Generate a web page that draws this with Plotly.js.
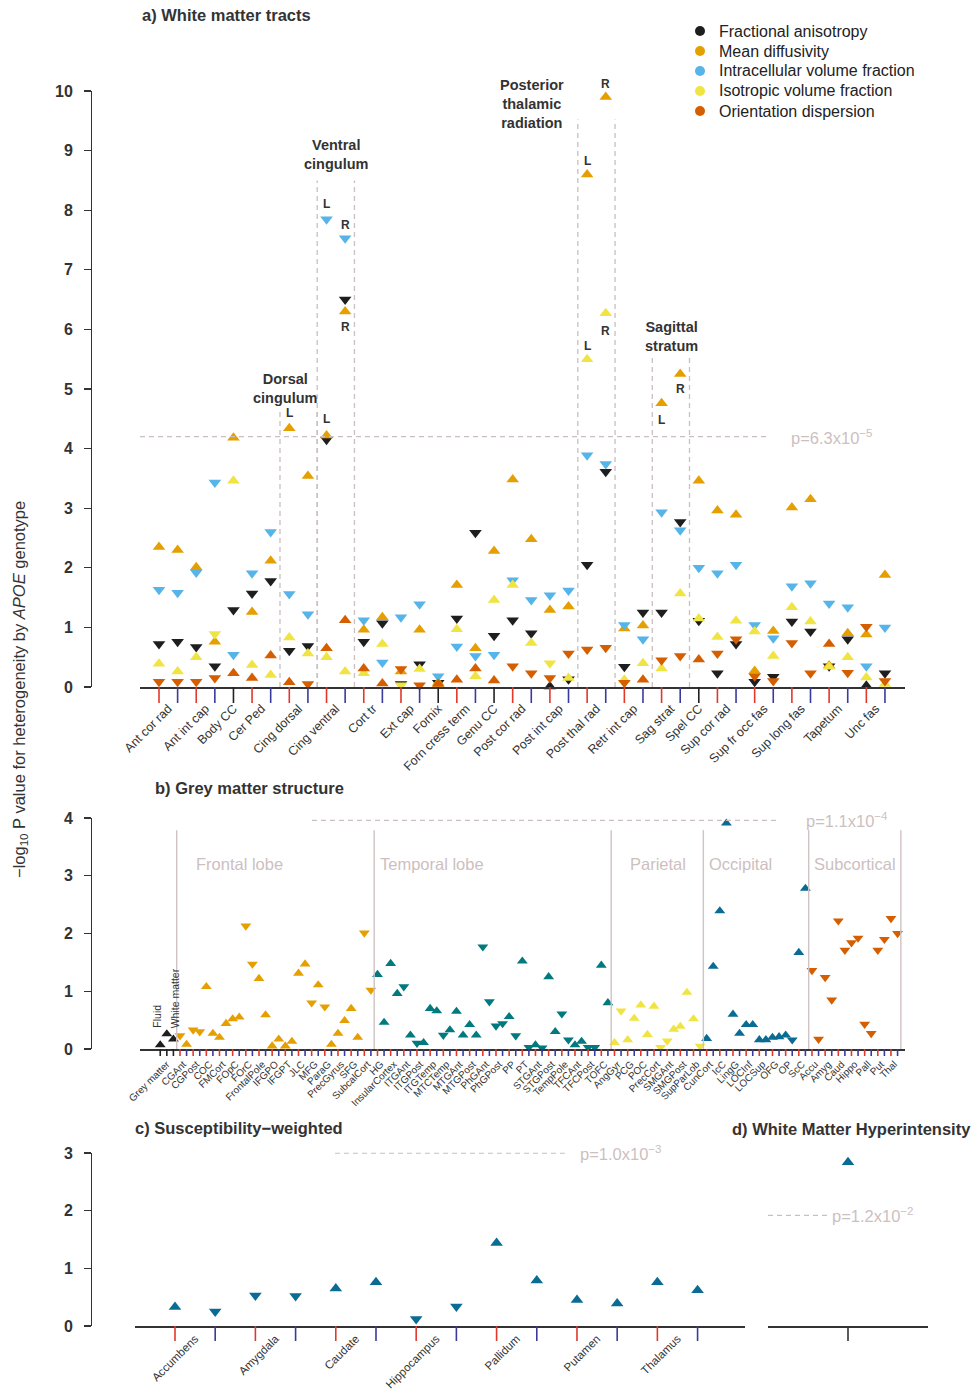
<!DOCTYPE html>
<html>
<head>
<meta charset="utf-8">
<script src="https://cdn.plot.ly/plotly-3.0.1.min.js"></script>
<style>
  html, body { margin: 0; padding: 0; background: #ffffff; }
  #chart { width: 973px; height: 1395px; }
</style>
</head>
<body>
<div id="chart"></div>
<script>
// ---------- a) White matter tracts ----------
const tracts = ['Ant cor rad', 'Ant int cap', 'Body CC', 'Cer Ped', 'Cing dorsal', 'Cing ventral',
  'Cort tr', 'Ext cap', 'Fornix', 'Forn cress term', 'Genu CC', 'Post cor rad', 'Post int cap',
  'Post thal rad', 'Retr int cap', 'Sag strat', 'Spel CC', 'Sup cor rad', 'Sup fr occ fas',
  'Sup long fas', 'Tapetum', 'Unc fas'];
// LR = left and right hemisphere entries, M = single midline tract
const tractSides = ['LR', 'LR', 'M', 'LR', 'LR', 'LR', 'LR', 'LR', 'M', 'LR', 'M', 'LR', 'LR',
  'LR', 'LR', 'LR', 'M', 'LR', 'LR', 'LR', 'LR', 'LR'];

// -log10 P per entry (L then R), direction: u = higher, d = lower
const faVal = [0.72, 0.76, 0.67, 0.35, 1.29, 1.57, 1.78, 0.61, 0.69, 4.15, 6.50, 0.76, 1.07,
  0.05, 0.38, 0.07, 1.15, 2.59, 0.86, 1.12, 0.90, 0.01, 0.13, 2.05, 3.61, 0.34, 1.25, 1.25, 2.77,
  1.11, 0.23, 0.72, 0.09, 0.17, 1.10, 0.93, 0.35, 0.80, 0.02, 0.23];
const faDir = 'dd dd d dd dd dd dd dd d dd d dd ud dd dd dd d dd dd dd dd ud';

const mdVal = [2.35, 2.30, 2.01, 0.76, 4.18, 1.26, 2.12, 4.34, 3.54, 4.22, 6.30, 0.96, 1.17,
  0.26, 0.96, 0.07, 1.71, 0.65, 2.28, 3.48, 2.48, 1.29, 1.35, 8.60, 9.90, 0.98, 1.03, 4.76, 5.25,
  3.46, 2.96, 2.89, 0.27, 0.94, 3.01, 3.15, 0.36, 0.90, 0.88, 1.88];
const mdDir = 'uu uu u uu uu uu uu uu u uu u uu uu uu uu uu u uu uu uu uu uu';

const icvfVal = [1.63, 1.58, 1.92, 3.43, 0.54, 1.91, 2.60, 1.56, 1.22, 7.85, 7.53, 1.12, 0.41,
  1.17, 1.39, 0.18, 0.68, 0.52, 0.54, 1.79, 1.46, 1.54, 1.62, 3.89, 3.74, 1.04, 0.80, 2.93, 2.63,
  2.00, 1.91, 2.05, 1.04, 0.82, 1.69, 1.74, 1.40, 1.34, 0.35, 1.00];
const icvfDir = 'dd dd d dd dd dd dd dd d dd d dd dd dd dd dd d dd dd dd dd dd';

const isoVal = [0.39, 0.26, 0.50, 0.89, 3.46, 0.37, 0.20, 0.83, 0.56, 0.50, 0.26, 0.23, 0.72,
  0.03, 0.30, 0.02, 0.97, 0.18, 1.46, 1.71, 0.74, 0.40, 0.15, 5.50, 6.27, 0.12, 0.40, 0.31, 1.57,
  1.15, 0.84, 1.11, 0.93, 0.52, 1.34, 1.10, 0.34, 0.50, 0.16, 0.05];
const isoDir = 'uu ud u uu uu uu uu du u uu u uu du uu uu uu u uu uu uu uu uu';

const odVal = [0.09, 0.09, 0.09, 0.15, 0.23, 0.15, 0.53, 0.08, 0.05, 0.65, 1.12, 0.31, 0.06,
  0.30, 0.03, 0.05, 0.12, 0.31, 0.11, 0.35, 0.23, 0.15, 0.56, 0.63, 0.66, 0.07, 0.12, 0.45, 0.52,
  0.46, 0.56, 0.80, 0.18, 0.10, 0.74, 0.23, 0.72, 0.24, 1.01, 0.10];
const odDir = 'dd dd u uu ud uu uu dd u uu u dd dd dd du dd u dd dd dd ud dd';

const pThreshWM = 6.3e-5;

// ---------- b) Grey matter structure ----------
const tissues = ['Fluid', 'Grey matter', 'White matter'];
const tissueVal = [0.07, 0.26, 0.17];
const tissueDir = 'uuu';

const lobes = ['Frontal lobe', 'Temporal lobe', 'Parietal', 'Occipital', 'Subcortical'];
const frontalRegions = ['CGAnt', 'CGPost', 'COC', 'FMCort', 'FOpC', 'FOrC', 'FrontalPole', 'IFGPO',
  'IFGPT', 'JLC', 'MFG', 'ParaG', 'PrecGyrus', 'SFG', 'SubcalCort'];
const frontalVal = [0.23, 0.08, 0.33, 0.30, 1.08, 0.27, 0.20, 0.44, 0.52, 0.55, 2.13, 1.47, 1.22,
  0.59, 0.05, 0.17, 0.05, 0.13, 1.31, 1.47, 0.80, 1.11, 0.73, 0.08, 0.27, 0.49, 0.70, 0.20, 2.01, 1.02];
const frontalDir = 'du dd uu uu uu dd uu uu uu uu du du uu uu dd';

const temporalRegions = ['HG', 'InsularCortex', 'ITGAnt', 'ITGPost', 'ITGTemp', 'MTCTemp', 'MTGAnt',
  'MTGPost', 'PhGAnt', 'PhGPost', 'PP', 'PT', 'STGAnt', 'STGPost', 'TempPole', 'TFCAnt', 'TFCPost', 'TOFC'];
const temporalVal = [1.29, 0.46, 1.48, 0.96, 1.08, 0.24, 0.10, 0.11, 0.70, 0.66, 0.24, 0.33, 0.65,
  0.24, 0.42, 0.24, 1.77, 0.82, 0.40, 0.44, 0.56, 0.23, 1.52, 0.03, 0.07, 0.02, 1.25, 0.30, 0.61,
  0.16, 0.07, 0.13, 0.03, 0.03, 1.45, 0.80];
const temporalDir = 'uu uu du du uu du uu uu dd dd ud ud ud uu dd uu dd uu';

const parietalRegions = ['AngGyr', 'PCG', 'POC', 'PrecCort', 'SMGAnt', 'SMGPost', 'SupParLob'];
const parietalVal = [0.11, 0.66, 0.16, 0.53, 0.76, 0.25, 0.74, 0.03, 0.14, 0.34, 0.39, 0.98, 0.52, 0.05];
const parietalDir = 'ud uu uu ud du uu ud';

const occipitalRegions = ['CunCort', 'IcC', 'LingG', 'LOCInf', 'LOCSup', 'OFG', 'OP', 'ScC'];
const occipitalVal = [0.18, 1.43, 2.39, 3.91, 0.60, 0.27, 0.42, 0.42, 0.16, 0.16, 0.20, 0.21,
  0.24, 0.16, 1.67, 2.78];
const occipitalDir = 'uu uu uu uu uu uu ud uu';

const subcorticalRegions = ['Accu', 'Amyg', 'Caud', 'Hippo', 'Pall', 'Put', 'Thal'];
const subcorticalVal = [1.36, 0.17, 1.24, 0.85, 2.22, 1.71, 1.84, 1.92, 0.43, 0.27, 1.71, 1.90, 2.26, 2.00];
const subcorticalDir = 'dd dd dd dd dd dd dd';

const pThreshGM = 1.1e-4;

// ---------- c) Susceptibility-weighted ----------
const swiRegions = ['Accumbens', 'Amygdala', 'Caudate', 'Hippocampus', 'Pallidum', 'Putamen', 'Thalamus'];
const swiVal = [0.33, 0.25, 0.53, 0.52, 0.65, 0.76, 0.12, 0.34, 1.44, 0.79, 0.45, 0.39, 0.76, 0.62];
const swiDir = 'ud dd uu dd uu uu uu';
const pThreshSWI = 1.0e-3;

// ---------- d) White Matter Hyperintensity ----------
const wmhVal = [2.84];
const wmhDir = 'u';
const pThreshWMH = 1.2e-2;

// ---------- helpers ----------
const W = 973, H = 1395;
const px = v => v / W;            // pixel column -> paper x
const py = v => 1 - v / H;        // pixel row -> paper y
const FONT = 'Liberation Sans, Arial, Helvetica, sans-serif';
const INK = '#333333';
const PALE = '#CDBFBF';
const COL_L = '#E0392C', COL_R = '#3A3A9C', COL_M = '#222222';
const nlog = p => -Math.log10(p);
const symbols = d => d.replace(/\s/g, '').split('').map(c => (c === 'u' ? 'triangle-up' : 'triangle-down'));

const traces = [];
const shapes = [];
const annotations = [];

function tickShape(xref, x, color, yTopPx, yBotPx) {
  shapes.push({ type: 'line', xref: xref, yref: 'paper', x0: x, x1: x, y0: py(yTopPx), y1: py(yBotPx),
    line: { color: color, width: 1.6 } });
}

// ----- panel a positions -----
const wmEntries = [];
tracts.forEach((t, ti) => {
  if (tractSides[ti] === 'M') wmEntries.push({ ti: ti, side: 'M' });
  else { wmEntries.push({ ti: ti, side: 'L' }); wmEntries.push({ ti: ti, side: 'R' }); }
});
const wmX = wmEntries.map((e, i) => i);
const tractIdx = t => wmEntries.map((e, i) => (tracts[e.ti] === t ? i : -1)).filter(i => i >= 0);
const tractCenters = tracts.map(t => { const ix = tractIdx(t); return (ix[0] + ix[ix.length - 1]) / 2; });

const wmMeasures = [
  { name: 'Fractional anisotropy', val: faVal, dir: faDir, color: '#1E1E1E' },
  { name: 'Mean diffusivity', val: mdVal, dir: mdDir, color: '#E69F00' },
  { name: 'Intracellular volume fraction', val: icvfVal, dir: icvfDir, color: '#56B4E9' },
  { name: 'Isotropic volume fraction', val: isoVal, dir: isoDir, color: '#F0E442' },
  { name: 'Orientation dispersion', val: odVal, dir: odDir, color: '#D55E00' }
];
wmMeasures.forEach(m => {
  traces.push({ type: 'scatter', mode: 'markers', x: wmX, y: m.val, xaxis: 'x', yaxis: 'y', name: m.name,
    cliponaxis: false, showlegend: false, hoverinfo: 'skip',
    marker: { symbol: symbols(m.dir), size: 11, color: m.color, line: { width: 0 } } });
});

// key: one dot and label per measure
wmMeasures.forEach((m, i) => {
  const cy = 31 + 20 * i;
  shapes.push({ type: 'circle', xref: 'paper', yref: 'paper', x0: px(695), x1: px(705), y0: py(cy + 5), y1: py(cy - 5),
    fillcolor: m.color, line: { width: 0 } });
  annotations.push({ xref: 'paper', yref: 'paper', x: px(717), y: py(cy), xanchor: 'left', yanchor: 'middle',
    showarrow: false, text: m.name, font: { family: FONT, size: 16, color: '#222222' } });
});

wmEntries.forEach((e, i) => {
  tickShape('x', i, e.side === 'L' ? COL_L : (e.side === 'R' ? COL_R : COL_M), 687, 703);
});

// dashed brackets around highlighted tracts
const brackets = [
  { tract: 'Cing dorsal', top: 4.65 },
  { tract: 'Cing ventral', top: 8.5 },
  { tract: 'Post thal rad', top: 9.52 },
  { tract: 'Sag strat', top: 5.55 }
];
const DASH = { color: '#CBBFBF', width: 1.3, dash: '5px,4px' };
brackets.forEach(b => {
  const ix = tractIdx(b.tract);
  [ix[0] - 0.5, ix[ix.length - 1] + 0.5].forEach(xv => {
    shapes.push({ type: 'line', xref: 'x', yref: 'y', x0: xv, x1: xv, y0: 0, y1: b.top, line: DASH });
  });
});
const wmLineEnd = 32.8;
shapes.push({ type: 'line', xref: 'x', yref: 'y', x0: -1.02, x1: wmLineEnd, y0: nlog(pThreshWM), y1: nlog(pThreshWM), line: DASH });
annotations.push({ xref: 'x', yref: 'y', x: wmLineEnd, y: nlog(pThreshWM), xanchor: 'left', yanchor: 'middle',
  xshift: 19, showarrow: false, text: 'p=6.3x10<sup>\u22125</sup>', font: { family: FONT, size: 16.5, color: PALE } });

// hemisphere markers next to the strongest entries
const lrNotes = [
  ['Mean diffusivity', 7, 'L', 15], ['Mean diffusivity', 9, 'L', 16], ['Intracellular volume fraction', 9, 'L', 15],
  ['Intracellular volume fraction', 10, 'R', 13], ['Mean diffusivity', 10, 'R', -15], ['Mean diffusivity', 23, 'L', 13],
  ['Mean diffusivity', 24, 'R', 13], ['Isotropic volume fraction', 23, 'L', 13], ['Isotropic volume fraction', 24, 'R', -18],
  ['Mean diffusivity', 27, 'L', -17], ['Mean diffusivity', 28, 'R', -15]
];
lrNotes.forEach(n => {
  const m = wmMeasures.find(mm => mm.name === n[0]);
  annotations.push({ xref: 'x', yref: 'y', x: n[1], y: m.val[n[1]], yshift: n[3], showarrow: false,
    text: '<b>' + n[2] + '</b>', font: { family: FONT, size: 12, color: INK } });
});

// bracket captions
const groupCaptions = [
  ['Dorsal<br>cingulum', 285, 388], ['Ventral<br>cingulum', 336, 154],
  ['Posterior<br>thalamic<br>radiation', 532, 104], ['Sagittal<br>stratum', 671, 336]
];
groupCaptions.forEach(g => annotations.push({ xref: 'paper', yref: 'paper', x: px(g[1]), y: py(g[2]),
  xanchor: 'center', yanchor: 'middle', showarrow: false, text: '<b>' + g[0] + '</b>',
  font: { family: FONT, size: 14.5, color: INK } }));

// ----- panel b positions -----
const gmGroups = [
  { regions: frontalRegions, val: frontalVal, dir: frontalDir, color: '#E69F00' },
  { regions: temporalRegions, val: temporalVal, dir: temporalDir, color: '#007A7E' },
  { regions: parietalRegions, val: parietalVal, dir: parietalDir, color: '#F0E442' },
  { regions: occipitalRegions, val: occipitalVal, dir: occipitalDir, color: '#0A6C94' },
  { regions: subcorticalRegions, val: subcorticalVal, dir: subcorticalDir, color: '#D55E00' }
];
const gmTickVals = [1];
const gmTickText = ['Grey matter'];
traces.push({ type: 'scatter', mode: 'markers', x: tissues.map((t, k) => k), y: tissueVal, xaxis: 'x2', yaxis: 'y2',
  cliponaxis: false, showlegend: false, hoverinfo: 'skip',
  marker: { symbol: symbols(tissueDir), size: 9.5, color: '#1E1E1E', line: { width: 0 } } });
tissues.forEach((t, k) => tickShape('x2', k, COL_M, 1049, 1056));

let k0 = tissues.length;
const lobeBounds = [k0 - 0.5];
gmGroups.forEach(g => {
  const xs = g.val.map((v, i) => k0 + i);
  traces.push({ type: 'scatter', mode: 'markers', x: xs, y: g.val, xaxis: 'x2', yaxis: 'y2',
    cliponaxis: false, showlegend: false, hoverinfo: 'skip',
    marker: { symbol: symbols(g.dir), size: 9.5, color: g.color, line: { width: 0 } } });
  g.regions.forEach((r, ri) => {
    gmTickVals.push(k0 + 2 * ri + 0.5);
    gmTickText.push(r);
    tickShape('x2', k0 + 2 * ri, COL_L, 1049, 1056);
    tickShape('x2', k0 + 2 * ri + 1, COL_R, 1049, 1056);
  });
  k0 += g.val.length;
  lobeBounds.push(k0 - 0.5);
});
lobeBounds.forEach(xv => shapes.push({ type: 'line', xref: 'x2', yref: 'y2', x0: xv, x1: xv, y0: 0, y1: 3.79,
  line: { color: '#CFC3C3', width: 1.4 } }));
const lobeCaptionPx = [194, 378, 628, 707, 812];
lobes.forEach((l, i) => annotations.push({ xref: 'paper', yref: 'paper', x: px(lobeCaptionPx[i]), y: py(864),
  xanchor: 'left', yanchor: 'middle', showarrow: false, text: l, font: { family: FONT, size: 16.5, color: PALE } }));
const gmLine = [23.05, 94.1];
shapes.push({ type: 'line', xref: 'x2', yref: 'y2', x0: gmLine[0], x1: gmLine[1], y0: nlog(pThreshGM), y1: nlog(pThreshGM), line: DASH });
annotations.push({ xref: 'x2', yref: 'y2', x: gmLine[1], y: nlog(pThreshGM), xanchor: 'left', yanchor: 'middle',
  xshift: 24, showarrow: false, text: 'p=1.1x10<sup>\u22124</sup>', font: { family: FONT, size: 16.5, color: PALE } });
// labels for the two tissue classes without a bottom label
annotations.push({ xref: 'x2', yref: 'y2', x: 0, y: 0.33, xshift: -3, xanchor: 'center', yanchor: 'bottom', textangle: -90,
  showarrow: false, text: tissues[0], font: { family: FONT, size: 10.5, color: INK } });
annotations.push({ xref: 'x2', yref: 'y2', x: 2, y: 0.33, xshift: 2, xanchor: 'center', yanchor: 'bottom', textangle: -90,
  showarrow: false, text: tissues[2], font: { family: FONT, size: 10.5, color: INK } });

// ----- panel c -----
const swiX = swiVal.map((v, j) => j);
traces.push({ type: 'scatter', mode: 'markers', x: swiX, y: swiVal, xaxis: 'x3', yaxis: 'y3',
  cliponaxis: false, showlegend: false, hoverinfo: 'skip',
  marker: { symbol: symbols(swiDir), size: 11, color: '#0A6C94', line: { width: 0 } } });
swiX.forEach(j => tickShape('x3', j, j % 2 === 0 ? COL_L : COL_R, 1326, 1341));
const swiLine = [3.98, 9.7];
shapes.push({ type: 'line', xref: 'x3', yref: 'y3', x0: swiLine[0], x1: swiLine[1], y0: nlog(pThreshSWI), y1: nlog(pThreshSWI), line: DASH });
annotations.push({ xref: 'x3', yref: 'y3', x: swiLine[1], y: nlog(pThreshSWI), xanchor: 'left', yanchor: 'middle',
  xshift: 13, showarrow: false, text: 'p=1.0x10<sup>\u22123</sup>', font: { family: FONT, size: 16.5, color: PALE } });

// ----- panel d -----
traces.push({ type: 'scatter', mode: 'markers', x: [1], y: wmhVal, xaxis: 'x4', yaxis: 'y4',
  cliponaxis: false, showlegend: false, hoverinfo: 'skip',
  marker: { symbol: symbols(wmhDir), size: 11, color: '#0A6C94', line: { width: 0 } } });
tickShape('x4', 1, '#333333', 1326, 1341);
shapes.push({ type: 'line', xref: 'x4', yref: 'y4', x0: 0, x1: 0.78, y0: nlog(pThreshWMH), y1: nlog(pThreshWMH), line: DASH });
annotations.push({ xref: 'x4', yref: 'y4', x: 0.78, y: nlog(pThreshWMH), xanchor: 'left', yanchor: 'middle',
  xshift: 0, showarrow: false, text: 'p=1.2x10<sup>\u22122</sup>', font: { family: FONT, size: 16.5, color: PALE } });

// ----- panel titles and shared y title -----
const titles = [['a) White matter tracts', 140, 15], ['b) Grey matter structure', 153, 788],
  ['c) Susceptibility\u2212weighted', 133, 1128], ['d) White Matter Hyperintensity', 730, 1129]];
titles.forEach(t => annotations.push({ xref: 'paper', yref: 'paper', x: px(t[1]), y: py(t[2]), xanchor: 'left',
  yanchor: 'middle', showarrow: false, text: '<b>' + t[0] + '</b>', font: { family: FONT, size: 16.5, color: INK } }));
annotations.push({ xref: 'paper', yref: 'paper', x: px(20), y: py(690), xanchor: 'center', yanchor: 'middle',
  textangle: -90, showarrow: false,
  text: '\u2212log<sub>10</sub> P value for heterogeneity by <i>APOE</i> genotype',
  font: { family: FONT, size: 16.5, color: INK } });

// ----- axes -----
const yBase = (dom, range, ticks) => ({
  domain: dom, range: range, anchor: 'free', position: px(91), side: 'left',
  showline: true, linecolor: INK, linewidth: 1.3, ticks: 'outside', ticklen: 7, tickwidth: 1.3, tickcolor: INK,
  ticklabelstandoff: 8,
  tickvals: ticks, ticktext: ticks.map(String), showgrid: false, zeroline: false, fixedrange: true,
  tickfont: { family: FONT, size: 16, color: INK, weight: 700 }
});
const xBase = (dom, range, vals, text, fsize, gap) => ({
  domain: dom, range: range, showline: true, linecolor: INK, linewidth: 1.5,
  ticks: 'outside', ticklen: gap, tickcolor: 'rgba(0,0,0,0)', tickvals: vals, ticktext: text, tickangle: -45,
  showgrid: false, zeroline: false, fixedrange: true, tickfont: { family: FONT, size: fsize, color: INK }
});
const range0 = n => Array.from({ length: n + 1 }, (v, i) => i);

const layout = {
  width: W, height: H, margin: { l: 0, r: 0, t: 0, b: 0 }, paper_bgcolor: '#ffffff', plot_bgcolor: 'rgba(0,0,0,0)',
  font: { family: FONT, color: INK }, hovermode: false, showlegend: false,
  xaxis: Object.assign(xBase([px(140), px(905)], [-1.0207, 40.077], tractCenters, tracts, 12.5, 8), { anchor: 'y' }),
  yaxis: yBase([py(687), py(91)], [0, 10], range0(10)),
  xaxis2: Object.assign(xBase([px(140), px(905)], [-3.074, 113.13], gmTickVals, gmTickText, 10, 4), { anchor: 'y2' }),
  yaxis2: yBase([py(1049), py(818)], [0, 4], range0(4)),
  xaxis3: Object.assign(xBase([px(135), px(745)], [-0.995, 14.18], swiRegions.map((r, i) => 2 * i + 0.5), swiRegions, 11.5, 0), { anchor: 'y3' }),
  yaxis3: yBase([py(1326), py(1152.5)], [0, 3.01], range0(3)),
  xaxis4: { domain: [px(768), px(928)], range: [0, 2], anchor: 'y4', showline: true, linecolor: INK, linewidth: 1.5,
    showticklabels: false, ticks: '', showgrid: false, zeroline: false, fixedrange: true },
  yaxis4: { domain: [py(1326), py(1152.5)], range: [0, 3.01], anchor: 'x4', visible: false, fixedrange: true },
  shapes: shapes,
  annotations: annotations
};

Plotly.newPlot('chart', traces, layout, { staticPlot: true, displayModeBar: false });
</script>
</body>
</html>
